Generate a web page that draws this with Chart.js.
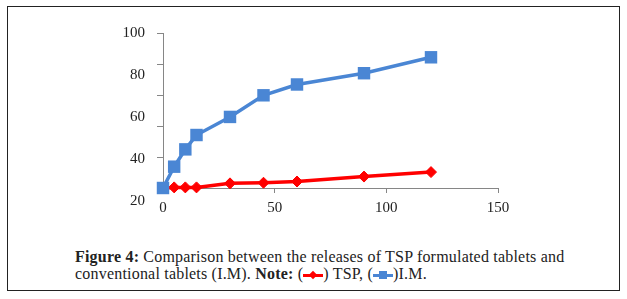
<!DOCTYPE html>
<html>
<head>
<meta charset="utf-8">
<script src="https://cdn.jsdelivr.net/npm/chart.js@4"></script>
<style>
  html, body { margin: 0; padding: 0; background: #fff; }
  body { width: 627px; height: 299px; position: relative; overflow: hidden; }
  #frame {
    position: absolute; left: 7px; top: 6px; width: 611px; height: 283px;
    border: 1.5px solid #222;
  }
  #chart { position: absolute; left: 0; top: 0; }
  #caption {
    position: absolute; left: 75px; top: 248px; width: 500px;
    font-family: 'Liberation Serif', serif; font-size: 16px; line-height: 17px;
    letter-spacing: 0.2px; color: #222;
  }
  .icon { display: inline-block; position: relative; width: 20px; height: 10px; vertical-align: -1px; }
  .icon .ln { position: absolute; left: 0; right: 0; top: 4px; height: 3px; }
  .icon .mk { position: absolute; left: 6px; top: 1px; width: 8px; height: 8px; }
  .tsp .ln, .tsp .mk { background: #ff0000; }
  .tsp .mk { transform: rotate(45deg); width: 6px; height: 6px; left: 7px; top: 2px; }
  .im .ln, .im .mk { background: #4a86d4; }
</style>
</head>
<body>
<div id="frame"></div>
<canvas id="chart" width="627" height="235"></canvas>
<div id="caption"><b>Figure 4:</b> Comparison between the releases of TSP formulated tablets and conventional tablets (I.M). <b>Note:</b> (<span class="icon tsp"><span class="ln"></span><span class="mk"></span></span>) TSP, (<span class="icon im"><span class="ln"></span><span class="mk"></span></span>)I.M.</div>
<script>
// time points (x) and % released for each formulation
const timePoints = [0, 5, 10, 15, 30, 45, 60, 90, 120];
const tspRelease = [0, 0.4, 0.4, 0.4, 3, 3.4, 4.2, 7.4, 10.3];
const imRelease = [0, 13.8, 25, 34.3, 46, 60, 67, 74.3, 84.6];
const yTickLabels = [20, 40, 60, 80, 100];

const toPoints = (vals) => timePoints.map((t, i) => ({ x: t, y: vals[i] }));

Chart.defaults.font.family = "'Liberation Serif', serif";
Chart.defaults.font.size = 15;
Chart.defaults.color = '#222';

const axisGray = '#868686';

new Chart(document.getElementById('chart'), {
  type: 'line',
  data: {
    datasets: [
      {
        label: 'TSP',
        data: toPoints(tspRelease),
        borderColor: '#ff0000',
        backgroundColor: '#ff0000',
        borderWidth: 3.5,
        pointStyle: 'rectRot',
        pointRadius: 5.5,
        pointBorderWidth: 1,
        tension: 0,
        clip: false,
        order: 1
      },
      {
        label: 'I.M.',
        data: toPoints(imRelease),
        borderColor: '#4a86d4',
        backgroundColor: '#4a86d4',
        borderWidth: 3.5,
        pointStyle: 'rect',
        pointRadius: 8.8,
        pointBorderWidth: 0,
        tension: 0,
        clip: false,
        order: 0
      }
    ]
  },
  options: {
    responsive: false,
    animation: false,
    devicePixelRatio: 1,
    layout: { padding: { left: 0, right: 129, top: 33.5, bottom: 17 } },
    plugins: { legend: { display: false }, tooltip: { enabled: false } },
    scales: {
      x: {
        type: 'linear',
        min: 0,
        max: 150,
        ticks: { stepSize: 50, padding: 6, color: '#222' },
        grid: { drawOnChartArea: false, drawTicks: true, tickLength: 5, color: axisGray },
        border: { color: axisGray, width: 1 },
        afterFit: (s) => { s.height = 30; }
      },
      y: {
        type: 'linear',
        position: 'left',
        weight: 0,
        min: 0,
        max: 100,
        ticks: { stepSize: 20, display: false },
        grid: { drawOnChartArea: false, drawTicks: true, tickLength: 6, color: axisGray },
        border: { color: axisGray, width: 1 },
        afterFit: (s) => { s.width = 6; }
      },
      // label-only axis, the figure's y labels sit a bit off the tick marks
      yText: {
        type: 'linear',
        position: 'left',
        weight: 1,
        min: 26.2,
        max: 100,
        afterBuildTicks: (s) => { s.ticks = yTickLabels.map(v => ({ value: v })); },
        ticks: { padding: 12, autoSkip: false, color: '#222' },
        grid: { display: false, drawTicks: false },
        border: { display: false },
        afterFit: (s) => { s.width = 157; }
      }
    }
  }
});
</script>
</body>
</html>
